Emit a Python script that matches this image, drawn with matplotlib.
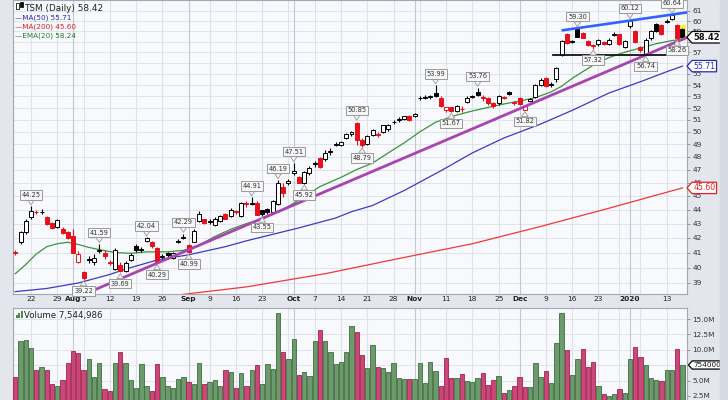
import pandas as pd
import matplotlib
matplotlib.use('Agg')
import matplotlib.pyplot as plt
from matplotlib.patches import Rectangle
from matplotlib.path import Path
from matplotlib.ticker import FixedLocator, NullLocator

# trading days shown (Jul 17 2019 - Jan 16 2020)
holidays = ['2019-09-02', '2019-11-28', '2019-12-25', '2020-01-01']
days = pd.bdate_range('2019-07-17', '2020-01-16')
days = days[~days.isin(pd.to_datetime(holidays))]

prev_close = 41.3  # close of the day before the first bar

opens = [41.05, 41.75, 42.4, 43.45, 43.85, 43.8, 43.5, 43.05, 42.75, 42.65,
         42.4, 42.1, 40.35, 39.7, 40.5, 40.35, 41.1, 41.0, 40.4, 39.9,
         40.2, 39.75, 40.5, 41.45, 41.2, 41.8, 41.75, 41.3, 40.7, 41.0,
         40.65, 41.75, 42.0, 41.5, 41.75, 43.15, 43.3, 43.1, 42.9, 43.15,
         43.7, 43.55, 43.9, 43.55, 44.45, 44.4, 44.45, 43.95, 44.05, 43.85,
         44.4, 45.7, 45.95, 46.7, 46.4, 45.95, 46.7, 47.4, 47.9, 47.8,
         48.4, 48.95, 48.95, 49.5, 49.85, 50.75, 49.3, 49.0, 49.75, 49.8,
         50.0, 50.2, 50.8, 51.0, 51.05, 51.35, 51.3, 52.85, 52.9, 52.95,
         53.3, 52.9, 51.85, 52.05, 51.75, 51.95, 52.5, 52.95, 53.4, 52.95,
         52.9, 52.45, 52.4, 52.95, 53.35, 52.5, 52.85, 51.85, 52.6, 52.95,
         54.05, 54.6, 54.0, 54.5, 56.7, 58.75, 57.95, 59.25, 58.8, 58.1,
         57.7, 57.75, 57.95, 57.75, 58.65, 58.7, 57.45, 59.5, 59.0, 57.5,
         56.8, 58.3, 59.7, 59.6, 59.95, 60.15, 59.6, 59.2]
highs = [41.2, 42.5, 43.35, 44.25, 44.0, 44.05, 43.55, 43.1, 43.3, 42.75,
         42.45, 42.6, 41.1, 39.8, 40.8, 40.9, 41.59, 41.2, 40.5, 41.3,
         40.4, 40.45, 41.0, 41.55, 41.35, 42.04, 41.8, 41.35, 40.9, 41.05,
         41.05, 41.95, 42.29, 41.55, 42.6, 43.9, 43.35, 43.3, 43.45, 43.6,
         43.75, 44.1, 43.95, 44.55, 44.6, 44.91, 44.6, 44.0, 44.15, 44.7,
         46.19, 46.0, 46.3, 47.51, 46.5, 46.9, 47.3, 47.7, 48.0, 48.5,
         48.7, 49.2, 49.25, 49.9, 50.1, 50.85, 49.5, 49.75, 50.25, 49.95,
         50.6, 50.65, 51.0, 51.2, 51.35, 51.45, 51.6, 53.05, 53.1, 53.1,
         53.99, 53.0, 52.1, 52.1, 52.3, 52.15, 53.0, 53.15, 53.76, 53.1,
         52.95, 52.5, 53.1, 53.0, 53.45, 52.6, 52.95, 52.2, 52.9, 54.1,
         54.6, 54.75, 54.3, 55.6, 58.2, 58.85, 58.2, 59.30, 58.9, 58.2,
         57.8, 58.25, 58.05, 58.3, 58.9, 58.75, 58.15, 60.12, 59.1, 57.6,
         58.3, 59.1, 59.8, 59.7, 60.2, 60.64, 59.7, 59.3]
lows = [40.85, 41.55, 42.3, 43.3, 43.65, 43.65, 42.9, 42.65, 42.7, 42.3,
        41.9, 40.95, 40.3, 39.22, 40.3, 40.2, 41.0, 40.6, 40.2, 39.85,
        39.69, 39.7, 40.45, 41.05, 41.05, 41.7, 41.3, 40.29, 40.55, 40.6,
        40.6, 41.65, 41.9, 40.99, 41.7, 43.1, 42.95, 43.0, 42.8, 43.1,
        43.3, 43.5, 43.7, 43.5, 44.2, 44.3, 43.58, 43.55, 43.7, 43.8,
        44.35, 44.9, 45.85, 46.6, 45.95, 45.92, 46.6, 47.2, 47.1, 47.65,
        48.1, 48.85, 48.85, 49.4, 49.7, 48.9, 48.79, 48.9, 49.7, 49.6,
        49.9, 50.1, 50.65, 50.85, 50.95, 50.9, 51.2, 52.7, 52.75, 52.8,
        52.95, 52.1, 51.7, 51.67, 51.7, 51.7, 52.4, 52.85, 53.0, 52.6,
        52.3, 52.0, 52.3, 52.75, 53.1, 52.3, 52.25, 51.82, 52.5, 52.9,
        53.95, 53.85, 53.8, 54.3, 56.6, 57.8, 57.85, 58.4, 58.3, 57.55,
        57.32, 57.6, 57.65, 57.7, 58.5, 57.7, 57.35, 59.3, 57.9, 57.05,
        56.74, 58.2, 58.9, 58.6, 59.8, 60.1, 58.26, 58.2]
closes = [41.0, 42.4, 43.15, 43.9, 43.8, 43.85, 42.95, 42.7, 43.25, 42.35,
          42.0, 41.0, 40.9, 39.3, 40.6, 40.65, 41.2, 40.75, 40.3, 41.15,
          39.8, 40.3, 40.85, 41.15, 41.25, 42.0, 41.45, 40.4, 40.8, 40.85,
          40.95, 41.8, 42.05, 41.05, 42.5, 43.7, 43.05, 43.15, 43.35, 43.55,
          43.35, 44.0, 43.8, 44.45, 44.4, 44.5, 43.6, 43.7, 43.8, 44.6,
          46.0, 45.2, 46.1, 46.85, 46.0, 46.8, 47.1, 47.5, 47.2, 48.3,
          48.45, 49.0, 49.15, 49.85, 49.95, 49.3, 48.95, 49.7, 50.15, 49.75,
          50.55, 50.6, 50.85, 51.05, 51.3, 51.0, 51.5, 52.9, 52.95, 53.0,
          53.05, 52.15, 52.05, 51.75, 52.2, 51.9, 52.9, 53.0, 53.1, 52.85,
          52.4, 52.15, 53.05, 52.85, 53.25, 52.4, 52.35, 52.15, 52.75, 54.0,
          54.45, 53.9, 54.1, 55.5, 58.1, 57.85, 58.1, 58.45, 58.35, 57.65,
          57.6, 58.15, 57.75, 58.2, 58.7, 57.75, 58.1, 60.05, 58.0, 57.2,
          58.2, 59.0, 59.05, 58.7, 60.0, 60.6, 58.3, 58.42]
# daily volume, millions of shares
volumes = [5.63, 11.48, 11.59, 10.24, 6.72, 7.26, 6.72, 4.45, 4.18, 5.09,
           7.81, 9.86, 9.43, 6.72, 8.45, 5.63, 7.91, 3.6, 3.37, 7.91,
           9.7, 7.91, 5.09, 3.85, 7.64, 4.12, 3.37, 7.64, 5.63, 4.18,
           3.74, 5.25, 5.52, 4.72, 4.45, 7.91, 4.45, 4.72, 5.09, 4.12,
           6.72, 6.34, 3.85, 6.24, 4.18, 6.72, 7.53, 4.45, 7.64, 6.83,
           16.03, 9.7, 8.5, 11.7, 5.9, 6.34, 5.74, 11.43, 13.16, 11.48,
           9.59, 7.64, 8.02, 9.7, 13.81, 12.94, 9.16, 7.0, 10.78, 7.26,
           7.1, 6.45, 7.81, 5.36, 5.25, 5.25, 5.25, 7.81, 4.54, 8.07,
           6.61, 4.12, 8.72, 5.47, 5.47, 6.07, 4.93, 4.83, 5.47, 6.29,
           4.29, 5.09, 5.8, 2.93, 3.47, 4.18, 5.52, 3.9, 4.0, 7.81,
           5.52, 6.61, 4.54, 11.16, 15.92, 9.97, 5.9, 8.56, 10.14, 7.26,
           8.02, 4.12, 2.77, 2.5, 2.82, 3.58, 3.04, 8.45, 10.5, 8.89,
           7.53, 5.42, 5.09, 4.93, 6.72, 6.72, 10.14, 7.54]

# moving averages (date, value)
ema20_dates = ['2019-07-17', '2019-07-19', '2019-07-23', '2019-07-25', '2019-07-29',
               '2019-07-31', '2019-08-02', '2019-08-06', '2019-08-08', '2019-08-13',
               '2019-08-16', '2019-08-21', '2019-08-27', '2019-08-30', '2019-09-05',
               '2019-09-10', '2019-09-13', '2019-09-18', '2019-09-23', '2019-09-27',
               '2019-10-03', '2019-10-08', '2019-10-14', '2019-10-17', '2019-10-22',
               '2019-10-25', '2019-10-30', '2019-11-04', '2019-11-07', '2019-11-13',
               '2019-11-18', '2019-11-21', '2019-11-26', '2019-12-02', '2019-12-05',
               '2019-12-10', '2019-12-12', '2019-12-16', '2019-12-18', '2019-12-20',
               '2019-12-26', '2019-12-31', '2020-01-06', '2020-01-09', '2020-01-14',
               '2020-01-16']
ema20_values = [39.6, 40.2, 40.9, 41.4, 41.6, 41.7, 41.55, 41.35, 41.2, 41.0,
                40.95, 41.05, 41.05, 41.15, 41.5, 42.1, 42.6, 43.0, 43.3, 44.0,
                44.95, 45.7, 46.4, 47.0, 47.5, 48.3, 49.1, 50.0, 50.8, 51.4,
                51.75, 52.05, 52.35, 52.6, 52.9, 53.4, 53.9, 54.6, 55.2, 55.8,
                56.5, 57.0, 57.4, 57.8, 58.1, 58.24]
ma50_dates = ['2019-07-17', '2019-07-25', '2019-08-02', '2019-08-12', '2019-08-15',
              '2019-08-19', '2019-08-23', '2019-09-03', '2019-09-12', '2019-09-18',
              '2019-10-02', '2019-10-11', '2019-10-16', '2019-10-22', '2019-10-30',
              '2019-11-08', '2019-11-18', '2019-11-26', '2019-12-06', '2019-12-16',
              '2019-12-26', '2020-01-06', '2020-01-13', '2020-01-16']
ma50_values = [38.45, 38.65, 39.0, 39.55, 39.9, 40.1, 40.5, 40.85, 41.4, 41.8,
               42.7, 43.4, 43.85, 44.3, 45.4, 46.9, 48.3, 49.5, 50.65, 51.8,
               53.3, 54.3, 55.2, 55.71]
ma200_dates = ['2019-08-28', '2019-09-18', '2019-10-09', '2019-10-29', '2019-11-18',
               '2019-12-06', '2019-12-26', '2020-01-16']
ma200_values = [38.2, 38.75, 39.6, 40.6, 41.6, 42.8, 44.1, 45.6]

# high / low callouts
high_dates = ['2019-07-22', '2019-08-08', '2019-08-21', '2019-08-30', '2019-09-19',
              '2019-09-26', '2019-10-01', '2019-10-17', '2019-11-07', '2019-11-19',
              '2019-12-17', '2020-01-02', '2020-01-14']
high_values = [44.25, 41.59, 42.04, 42.29, 44.91, 46.19, 47.51, 50.85, 53.99, 53.76,
               59.30, 60.12, 60.64]
low_dates = ['2019-08-05', '2019-08-14', '2019-08-23', '2019-09-03', '2019-09-23',
             '2019-10-03', '2019-10-18', '2019-11-12', '2019-12-03', '2019-12-20',
             '2020-01-07', '2020-01-15']
low_values = [39.22, 39.69, 40.29, 40.99, 43.55, 45.92, 48.79, 51.67, 51.82, 57.32,
              56.74, 58.26]

# hand drawn trend lines
purple_dates = ['2019-08-23', '2020-01-07']
purple_values = [40.29, 56.74]
blue_dates = ['2019-12-17', '2020-01-14']
blue_values = [59.30, 60.64]
support_value = 56.74

tick_dates = ['2019-07-22', '2019-07-29', '2019-08-01', '2019-08-05', '2019-08-12',
              '2019-08-19', '2019-08-26', '2019-09-03', '2019-09-09', '2019-09-16',
              '2019-09-23', '2019-09-30', '2019-10-01', '2019-10-07', '2019-10-14',
              '2019-10-21', '2019-10-28', '2019-11-01', '2019-11-04', '2019-11-11',
              '2019-11-18', '2019-11-25', '2019-12-02', '2019-12-09', '2019-12-16',
              '2019-12-23', '2019-12-30', '2020-01-02', '2020-01-06', '2020-01-13']
tick_labels = ['22', '29', 'Aug', '5', '12', '19', '26', 'Sep', '9', '16',
               '23', '', 'Oct', '7', '14', '21', '28', 'Nov', '', '11',
               '18', '25', 'Dec', '9', '16', '23', '', '2020', '', '13']
month_labels = ['Aug', 'Sep', 'Oct', 'Nov', 'Dec', '2020']


def idx(d):
    return days.get_loc(pd.Timestamp(d))


def tag_box(x0, y0, width, height, mutation_size):
    # box with a pointed left side, like the price tags on the right axis
    p = 0.15 * mutation_size
    x0, y0, width, height = x0 - p, y0 - p, width + 2 * p, height + 2 * p
    tip = height * 0.45
    verts = [(x0 - tip, y0 + height / 2), (x0, y0 + height), (x0 + width, y0 + height),
             (x0 + width, y0), (x0, y0), (x0 - tip, y0 + height / 2)]
    codes = [Path.MOVETO] + [Path.LINETO] * 4 + [Path.CLOSEPOLY]
    return Path(verts, codes)


n = len(days)
x_right = n - 1 + 0.86
black = '#000000'
red = '#e8101a'

fig = plt.figure(figsize=(7.28, 4.0), dpi=100, facecolor='#e3e6ec')
ax = fig.add_axes([13 / 728, 1 - 294 / 400, 674 / 728, 294 / 400], facecolor='#f8f9fc')
axv = fig.add_axes([13 / 728, 0, 674 / 728, 92 / 400], facecolor='#f8f9fc')
fig.patches.append(Rectangle((720 / 728, 0), 8 / 728, 1, transform=fig.transFigure,
                             color='#d6dae2', zorder=0))

ax.set_yscale('log')
ax.set_ylim(38.30, 62.11)
for a in (ax, axv):
    a.set_xlim(-0.43, x_right)
    for s in a.spines.values():
        s.set_color('#a3a8b2')
        s.set_linewidth(0.8)

# grid
price_ticks = list(range(39, 62))
for p in price_ticks:
    ax.axhline(p, color='#e0e3e9', lw=0.7, zorder=0)
vol_ticks = [2.5e6, 5e6, 7.5e6, 10e6, 12.5e6, 15e6]
for v in vol_ticks:
    axv.axhline(v, color='#e0e3e9', lw=0.7, zorder=0)
for d, lab in zip(tick_dates, tick_labels):
    col = '#c3c7d0' if lab in month_labels else '#dfe2e8'
    ax.axvline(idx(d), color=col, lw=0.8, zorder=0)
    axv.axvline(idx(d), color=col, lw=0.8, zorder=0)

# candles
for i in range(n):
    o, h, l, c = opens[i], highs[i], lows[i], closes[i]
    pc = prev_close if i == 0 else closes[i - 1]
    col = black if c >= pc else red
    if i == n - 1:
        ax.add_patch(Rectangle((i - 0.62, l * 0.997), 1.24, h * 1.006 - l * 0.997,
                               facecolor='#fff23a', edgecolor='none', zorder=2))
    ax.vlines(i, l, h, color=col, lw=0.8, zorder=3)
    fill = 'white' if c >= o else col
    ax.add_patch(Rectangle((i - 0.38, min(o, c)), 0.76, abs(c - o),
                           facecolor=fill, edgecolor=col, lw=0.7, zorder=4))

# moving averages
ax.plot([idx(d) for d in ma200_dates], ma200_values, color='#f0383a', lw=0.9, zorder=2)
ax.plot([idx(d) for d in ma50_dates], ma50_values, color='#3b3bc6', lw=0.9, zorder=2)
ax.plot([idx(d) for d in ema20_dates], ema20_values, color='#3a943a', lw=0.9, zorder=2)

# trend lines (straight on the log axis)
p0, p1 = idx(purple_dates[0]), idx(purple_dates[1])
k = (purple_values[1] / purple_values[0]) ** (1 / (p1 - p0))
xs = [14.8, x_right]
ax.plot(xs, [purple_values[0] * k ** (x - p0) for x in xs], color='#a844b2', lw=2.0,
        zorder=5, solid_capstyle='butt')
b0, b1 = idx(blue_dates[0]), idx(blue_dates[1])
kb = (blue_values[1] / blue_values[0]) ** (1 / (b1 - b0))
xs = [104.0, x_right]
ax.plot(xs, [blue_values[0] * kb ** (x - b0) for x in xs], color='#2f62ff', lw=1.9,
        zorder=5, solid_capstyle='butt')
ax.plot([102.3, x_right], [support_value, support_value], color='#111111', lw=1.3, zorder=5)

# high / low callouts
box = dict(boxstyle='square,pad=0.25', fc='#f6f6f6', ec='#9a9a9a', lw=0.7)
arrow = dict(arrowstyle='wedge,tail_width=1.0', fc='#f6f6f6', ec='#9a9a9a', lw=0.6,
             shrinkA=0, shrinkB=1)
for d, v in zip(high_dates, high_values):
    ax.annotate(f'{v:.2f}', xy=(idx(d), v), xytext=(0, 6), textcoords='offset points',
                ha='center', va='bottom', fontsize=4.8, color='#333333', bbox=box,
                arrowprops=arrow, zorder=6)
for d, v in zip(low_dates, low_values):
    ax.annotate(f'{v:.2f}', xy=(idx(d), v), xytext=(0, -6), textcoords='offset points',
                ha='center', va='top', fontsize=4.8, color='#333333', bbox=box,
                arrowprops=arrow, zorder=6)

# right axis (labels hidden under the tags are left out)
ax.yaxis.tick_right()
ax.yaxis.set_major_locator(FixedLocator(price_ticks))
ax.yaxis.set_minor_locator(NullLocator())
ax.set_yticklabels(['' if p in (56, 58) else str(p) for p in price_ticks])
ax.tick_params(axis='y', labelsize=5.4, labelcolor='#333333', length=2.5, width=0.6,
               color='#888888', pad=1.5)
ax.set_xticks([idx(d) for d in tick_dates])
ax.set_xticklabels(tick_labels)
ax.tick_params(axis='x', length=0, labelsize=5.3, labelcolor='#222222', pad=1.2)
for t in ax.get_xticklabels():
    if t.get_text() in month_labels:
        t.set_fontweight('bold')

tags = [(closes[-1], '#000000', 'bold'), (ma50_values[-1], '#2a2ab8', 'normal'),
        (ma200_values[-1], '#e02020', 'normal')]
for v, col, w in tags:
    ax.annotate(f'{v:.2f}', xy=(1, v), xycoords=('axes fraction', 'data'),
                xytext=(4.5, 0), textcoords='offset points', ha='left', va='center',
                fontsize=6.0 if w == 'bold' else 5.6, fontweight=w,
                color='#111111' if w == 'bold' else col,
                bbox=dict(boxstyle=tag_box, fc='white', ec=col, lw=0.9),
                annotation_clip=False, zorder=7)

# volume bars
for i in range(n):
    pc = prev_close if i == 0 else closes[i - 1]
    up = closes[i] >= pc
    axv.bar(i, volumes[i] * 1e6, width=0.82, color='#6c9a6c' if up else '#c8487a',
            edgecolor='#3f6e3f' if up else '#a8204f', lw=0.6, zorder=3)
axv.set_ylim(1.85e6, 16.8e6)
axv.yaxis.tick_right()
axv.set_yticks(vol_ticks)
axv.set_yticklabels(['' if v == 7.5e6 else f'{v / 1e6:.1f}M' for v in vol_ticks])
axv.tick_params(axis='y', labelsize=5.2, labelcolor='#333333', length=2.5, width=0.6,
                color='#888888', pad=1.5)
axv.set_xticks([])
axv.annotate(f'{volumes[-1] * 1e6:.0f}', xy=(1, volumes[-1] * 1e6),
             xycoords=('axes fraction', 'data'), xytext=(4.5, 0), textcoords='offset points',
             ha='left', va='center', fontsize=5.2, color='#111111',
             bbox=dict(boxstyle=tag_box, fc='white', ec='#000000', lw=0.9),
             annotation_clip=False, zorder=7)

# small icons in front of the panel titles
def px(x, y, w, h, **kw):
    fig.patches.append(Rectangle((x / 728, 1 - (y + h) / 400), w / 728, h / 400,
                                 transform=fig.transFigure, zorder=5, **kw))


px(16, 3, 2.5, 6, facecolor='white', edgecolor='#111111', lw=0.6)
px(20, 2, 2.5, 5, facecolor='#111111', edgecolor='#111111', lw=0.6)
for j, h in enumerate([3, 5, 7]):
    px(15.5 + j * 2.6, 318 - h, 2.0, h, facecolor='#4f8a4f', edgecolor='none')

# titles / legend
ax.text(0.016, 0.985, 'TSM (Daily) 58.42', transform=ax.transAxes, fontsize=6.4,
        color='#222222', va='top', ha='left')
legend = [('MA(50) 55.71', '#2a2ab8'), ('MA(200) 45.60', '#e02020'), ('EMA(20) 58.24', '#2a7a2a')]
for j, (txt, col) in enumerate(legend):
    ax.text(0.003, 0.952 - j * 0.031, '\u2014' + txt, transform=ax.transAxes, fontsize=5.2,
            color=col, va='top', ha='left')
axv.text(0.016, 0.97, 'Volume 7,544,986', transform=axv.transAxes, fontsize=6.2,
         color='#222222', va='top', ha='left')

fig.savefig('out.png', dpi=100, facecolor=fig.get_facecolor())
